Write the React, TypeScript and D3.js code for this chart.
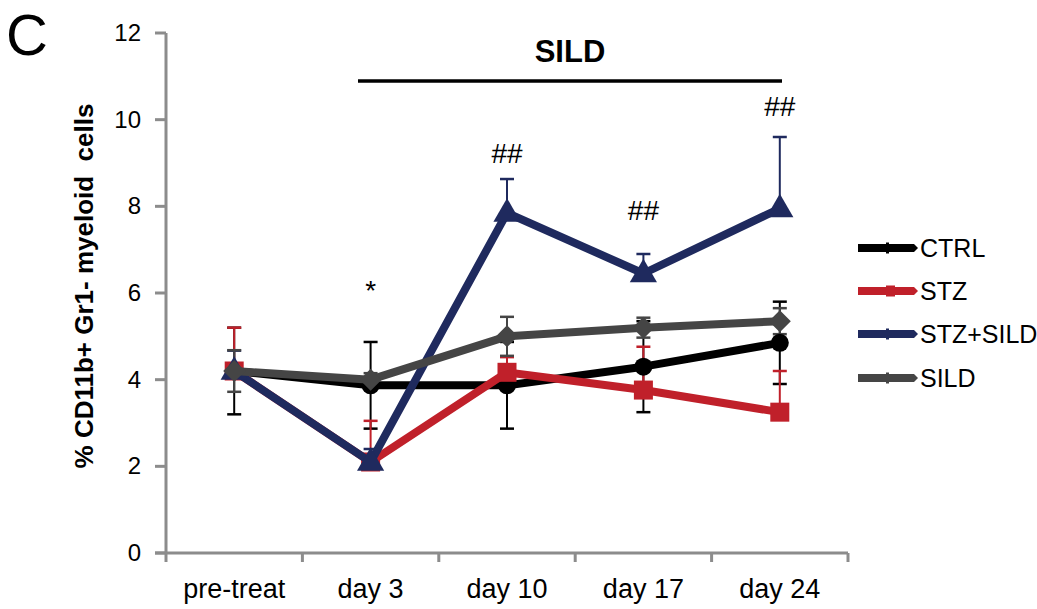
import React from "react";
import * as d3 from "d3";

// time points and group means
const categories = ["pre-treat", "day 3", "day 10", "day 17", "day 24"];
const seriesNames = ["CTRL", "STZ", "STZ+SILD", "SILD"];
const ctrl = [4.2, 3.87, 3.87, 4.3, 4.85];
const stz = [4.2, 2.1, 4.17, 3.76, 3.25];
const stzSild = [4.2, 2.1, 7.85, 6.45, 7.95];
const sild = [4.2, 4.0, 5.0, 5.2, 5.35];
// error bar half-widths (SEM)
const ctrlErr = [1.0, 1.0, 1.0, 1.05, 0.95];
const stzErr = [1.0, 0.95, 0.35, 1.0, 0.95];
const stzSildErr = [0.47, 0.3, 0.78, 0.45, 1.65];
const sildErr = [0.48, 0.15, 0.45, 0.23, 0.3];
// CTRL and SILD bars go both ways, STZ groups only upward
const bothWays = [true, false, false, true];
const yTicks = [0, 2, 4, 6, 8, 10, 12];
// significance marks: [text, category index, y value of baseline]
const marks: [string, number, number][] = [
  ["*", 1, 5.85],
  ["##", 2, 9.0],
  ["##", 3, 7.69],
  ["##", 4, 10.09],
];

const colors = ["#000000", "#c0202a", "#1f2a5e", "#454545"];
const font = "'Liberation Sans', Arial, sans-serif";

const W = 1037;
const H = 609;
const left = 166;
const right = 848;
const top = 33;
const bottom = 553;

function Marker({ kind, x, y, c }: { kind: number; x: number; y: number; c: string }) {
  if (kind === 0) return <circle cx={x} cy={y} r={9} fill={c} />;
  if (kind === 1) return <rect x={x - 9.5} y={y - 9.5} width={19} height={19} fill={c} />;
  if (kind === 2) {
    const p = d3.symbol(d3.symbolTriangle, 320)();
    return <path d={p || ""} transform={`translate(${x},${y + 1})`} fill={c} />;
  }
  return <path d={`M${x - 11},${y}L${x},${y - 11}L${x + 11},${y}L${x},${y + 11}Z`} fill={c} />;
}

export default function App() {
  const x = d3.scaleBand().domain(categories).range([left, right]);
  const y = d3.scaleLinear().domain([0, 12]).range([bottom, top]);
  const cx = (c: string) => (x(c) || 0) + x.bandwidth() / 2;

  const values = [ctrl, stz, stzSild, sild];
  const errs = [ctrlErr, stzErr, stzSildErr, sildErr];

  const line = d3
    .line<number>()
    .x((_, i) => cx(categories[i]))
    .y((d) => y(d));

  const legendY = [248, 291, 334, 378];

  return (
    <svg width={W} height={H} style={{ position: "absolute", left: 0, top: 0 }}>
      <rect width={W} height={H} fill="#fff" />
      <text x={6} y={55} fontFamily={font} fontSize={58}>C</text>

      {/* axes */}
      <g stroke="#8c8c8c" strokeWidth={3}>
        <line x1={left} x2={left} y1={top} y2={bottom} />
        <line x1={left - 11} x2={right} y1={bottom} y2={bottom} />
        {yTicks.map((t) => (
          <line key={t} x1={left - 11} x2={left} y1={y(t)} y2={y(t)} />
        ))}
        {categories.map((c) => (
          <line key={c} x1={x(c)} x2={x(c)} y1={bottom} y2={bottom + 9} />
        ))}
        <line x1={right} x2={right} y1={bottom} y2={bottom + 9} />
      </g>
      {yTicks.map((t) => (
        <text key={t} x={141} y={y(t) + 8} textAnchor="end" fontFamily={font} fontSize={24}>
          {t}
        </text>
      ))}
      {categories.map((c) => (
        <text key={c} x={cx(c)} y={598} textAnchor="middle" fontFamily={font} fontSize={27}>
          {c}
        </text>
      ))}
      <text
        transform={`translate(93,${286}) rotate(-90)`}
        textAnchor="middle"
        fontFamily={font}
        fontSize={26}
        fontWeight="bold"
        xmlSpace="preserve"
      >
        {"% CD11b+ Gr1- myeloid  cells"}
      </text>

      {/* treatment bar */}
      <line x1={358} x2={782} y1={81} y2={81} stroke="#000" strokeWidth={3.5} />
      <text x={570} y={62} textAnchor="middle" fontFamily={font} fontSize={31} fontWeight="bold">
        SILD
      </text>

      {/* error bars */}
      {values.map((vals, s) =>
        vals.map((v, i) => {
          const px = cx(categories[i]);
          const hi = y(v + errs[s][i]);
          const lo = bothWays[s] ? y(v - errs[s][i]) : y(v);
          return (
            <g key={`${s}-${i}`} stroke={colors[s]} strokeWidth={2}>
              <line x1={px} x2={px} y1={hi} y2={lo} />
              <line x1={px - 7} x2={px + 7} y1={hi} y2={hi} strokeWidth={2.5} />
              {bothWays[s] && <line x1={px - 7} x2={px + 7} y1={lo} y2={lo} strokeWidth={2.5} />}
            </g>
          );
        })
      )}

      {/* lines and markers */}
      {values.map((vals, s) => (
        <g key={s}>
          <path d={line(vals) || ""} fill="none" stroke={colors[s]} strokeWidth={8} strokeLinejoin="round" />
          {vals.map((v, i) => (
            <Marker key={i} kind={s} x={cx(categories[i])} y={y(v)} c={colors[s]} />
          ))}
        </g>
      ))}

      {marks.map(([t, i, v], k) => (
        <text key={k} x={cx(categories[i])} y={y(v)} textAnchor="middle" fontFamily={font} fontSize={28}>
          {t}
        </text>
      ))}

      {/* legend */}
      {seriesNames.map((n, s) => (
        <g key={n}>
          <path
            d={`M858,${legendY[s] - 4}H914L918,${legendY[s]}L914,${legendY[s] + 4}H858Z`}
            fill={colors[s]}
          />
          <rect x={886} y={legendY[s] - 5.5} width={s === 1 ? 9 : 3} height={11} fill={colors[s]} />
          <text x={920} y={legendY[s] + 9} fontFamily={font} fontSize={25}>
            {n}
          </text>
        </g>
      ))}
    </svg>
  );
}
